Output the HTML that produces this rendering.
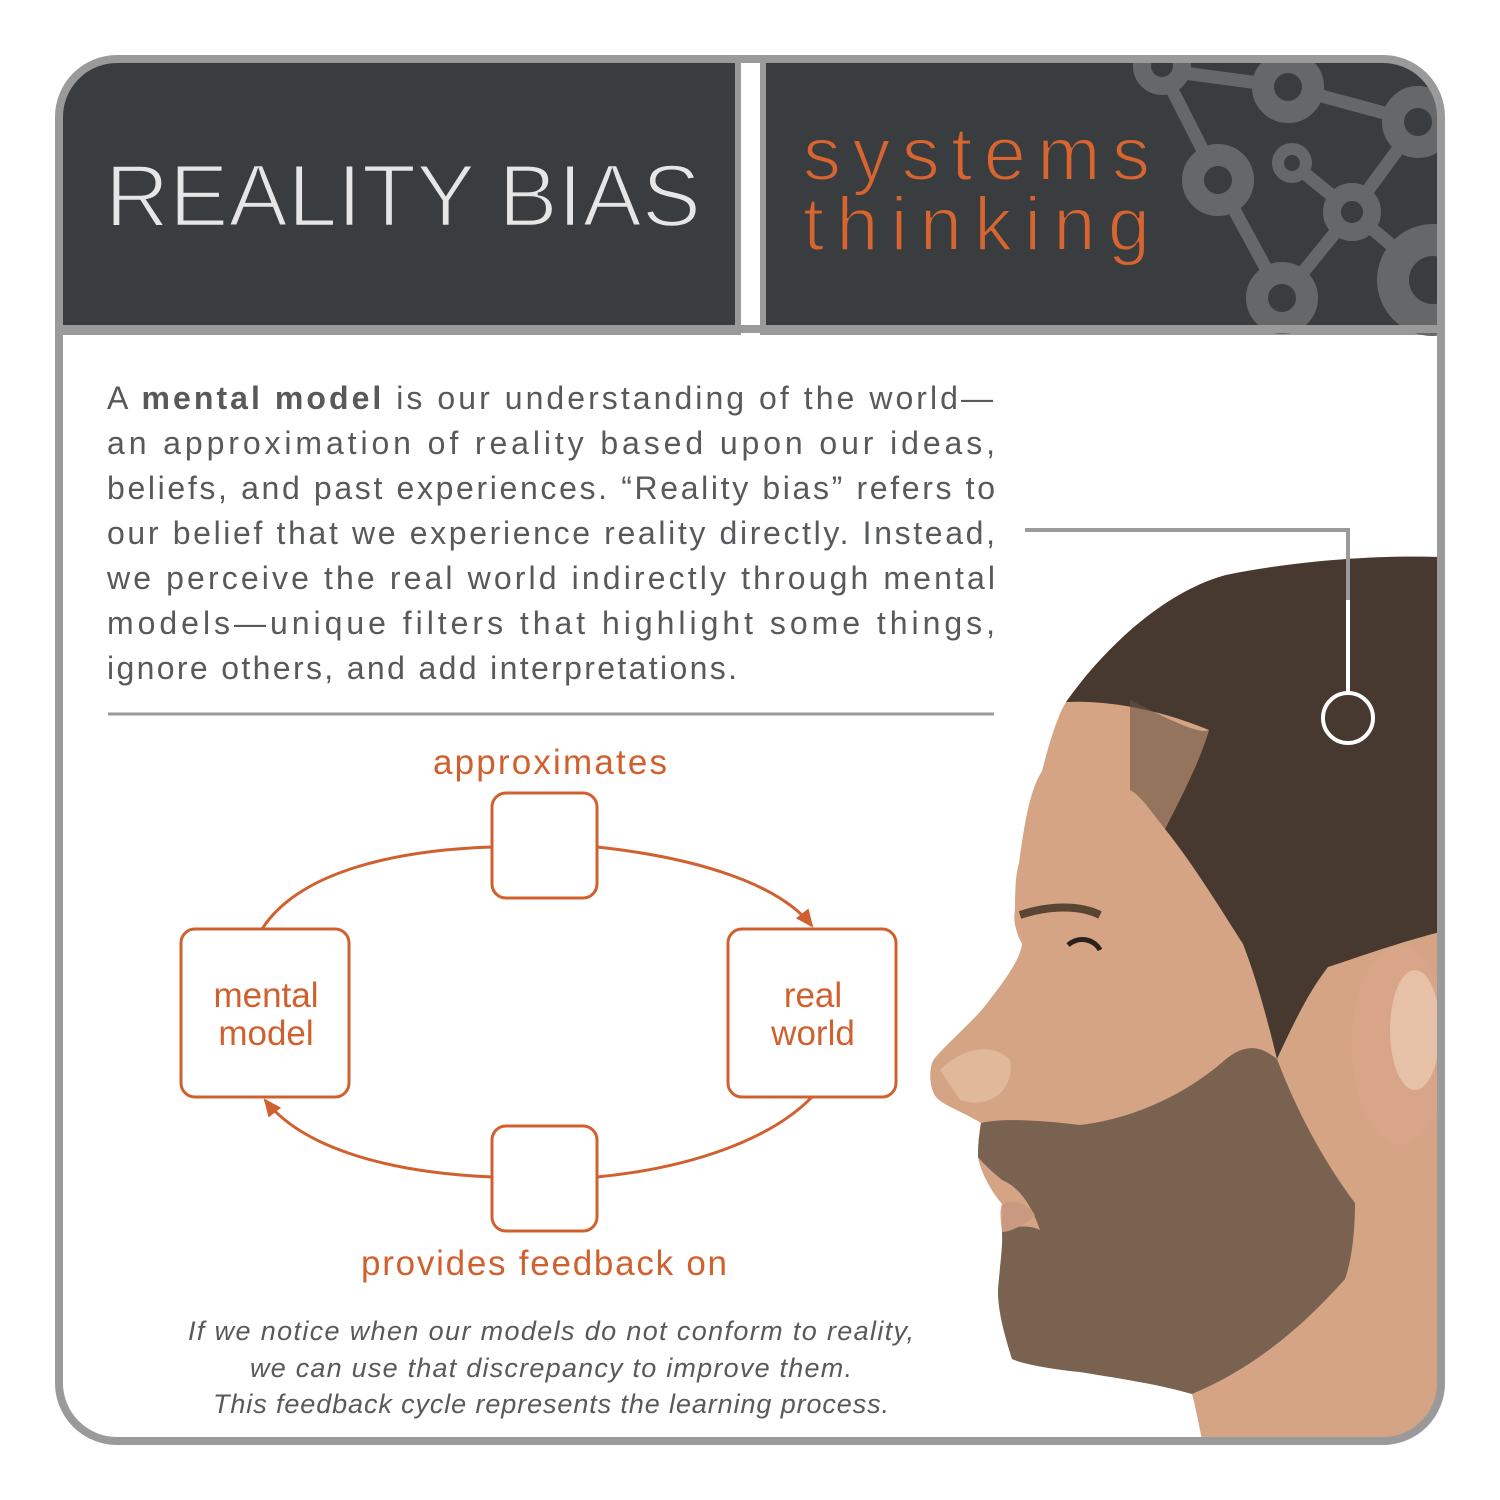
<!DOCTYPE html>
<html><head><meta charset="utf-8"><style>
html,body{margin:0;padding:0;background:#fff;}
svg{display:block;}
</style></head><body>
<svg width="1500" height="1500" viewBox="0 0 1500 1500" xmlns="http://www.w3.org/2000/svg">
<defs>
<clipPath id="frame"><rect x="59" y="59" width="1382" height="1382" rx="58"/></clipPath>
<marker id="ar" markerWidth="20" markerHeight="20" refX="16" refY="10" orient="auto" markerUnits="userSpaceOnUse" viewBox="0 0 20 20"><path d="M0,2 L18,10 L0,18 z" fill="#d0612f"/></marker>
</defs>
<rect x="0" y="0" width="1500" height="1500" fill="#fff"/>
<g clip-path="url(#frame)">
  <rect x="55" y="55" width="1390" height="280" fill="#9a9a9a"/>
  <rect x="62" y="62" width="673" height="263" fill="#3a3d3f"/>
  <rect x="766" y="62" width="680" height="263" fill="#3a3d3f"/>
  <rect x="741" y="55" width="19" height="280" fill="#fff"/>
  <rect x="735" y="55" width="6" height="280" fill="#9a9a9a"/>
  <rect x="760" y="55" width="6" height="280" fill="#9a9a9a"/>
  <g stroke="#656769" stroke-width="13" fill="none">
    <line x1="1162" y1="70" x2="1288" y2="87"/>
    <line x1="1288" y1="87" x2="1418" y2="122"/>
    <line x1="1162" y1="70" x2="1218" y2="180"/>
    <line x1="1218" y1="180" x2="1282" y2="298"/>
    <line x1="1292" y1="163" x2="1352" y2="212"/>
    <line x1="1352" y1="212" x2="1418" y2="122"/>
    <line x1="1352" y1="212" x2="1282" y2="298"/>
    <line x1="1352" y1="212" x2="1433" y2="280"/>
  </g>
  <g fill="#3a3d3f" stroke="#656769">
    <circle cx="1162" cy="66" r="20" stroke-width="18"/>
    <circle cx="1288" cy="87" r="25" stroke-width="22"/>
    <circle cx="1418" cy="122" r="25" stroke-width="22"/>
    <circle cx="1218" cy="180" r="25" stroke-width="22"/>
    <circle cx="1292" cy="163" r="14" stroke-width="12"/>
    <circle cx="1352" cy="212" r="20" stroke-width="18"/>
    <circle cx="1282" cy="298" r="25" stroke-width="22"/>
    <circle cx="1433" cy="280" r="40" stroke-width="32"/>
  </g>
  <rect x="55" y="325" width="1390" height="8" fill="#9a9a9a"/>
  <rect x="735" y="325" width="31" height="8" fill="#9a9a9a"/>
  <!-- face -->
  <path d="M1066,702 C1110,640 1170,590 1226,575 C1300,560 1380,555 1440,557 L1440,1440 L1202,1440 C1198,1420 1195,1405 1192,1394 C1160,1385 1130,1380 1080,1372 C1040,1368 1018,1362 1012,1359 C1003,1330 998,1310 998,1290 C1000,1265 1003,1245 1002,1232 C1000,1215 1000,1210 1002,1204 C990,1190 980,1170 978,1157 C978,1140 980,1130 981,1123 C960,1110 940,1105 934,1094 C928,1080 930,1065 934,1059 C950,1040 975,1020 988,1002 C1005,980 1020,960 1022,944 C1015,930 1013,920 1015,909 C1015,880 1017,870 1019,863 C1025,820 1030,790 1042,771 C1050,740 1058,715 1066,702 Z" fill="#d4a484"/>
  <path d="M940,1070 C960,1050 990,1040 1010,1060 C1015,1090 990,1110 960,1100 Z" fill="#e0b89a"/>
  <path d="M1066,702 C1110,640 1170,590 1226,575 C1300,560 1380,555 1440,557 L1440,932 C1390,945 1350,960 1328,967 C1310,990 1295,1020 1277,1059 C1265,1010 1255,975 1243,944 C1215,900 1190,860 1165,829 C1185,790 1200,760 1209,730 C1160,710 1110,700 1066,702 Z" fill="#47392f"/>
  <path d="M1130,700 C1170,720 1200,735 1209,730 C1200,760 1185,790 1165,829 C1150,810 1140,795 1130,790 Z" fill="#6a5544" opacity="0.6"/>
  <path d="M981,1123 C1000,1118 1040,1120 1080,1125 C1124,1120 1180,1100 1226,1059 C1250,1040 1265,1050 1277,1059 C1300,1120 1330,1170 1355,1203 C1355,1240 1350,1265 1345,1279 C1300,1330 1250,1370 1192,1394 C1160,1385 1130,1380 1080,1372 C1040,1368 1018,1362 1012,1359 C1003,1330 998,1310 998,1290 C1000,1265 1003,1245 1002,1232 C1015,1225 1030,1225 1040,1230 C1030,1200 1015,1185 1002,1180 C990,1170 980,1160 978,1157 C978,1140 980,1130 981,1123 Z" fill="#7a6251"/>
  <path d="M1002,1204 C1015,1198 1030,1205 1035,1215 C1025,1225 1010,1232 1002,1232 Z" fill="#c99a80"/>
  <ellipse cx="1400" cy="1045" rx="48" ry="100" fill="#d9a589"/>
  <ellipse cx="1415" cy="1030" rx="25" ry="60" fill="#e7c0a8"/>
  <path d="M1020,915 C1050,905 1080,905 1100,915" stroke="#5a4535" stroke-width="8" fill="none"/>
  <path d="M1068,945 C1080,935 1095,940 1100,950" stroke="#2a211c" stroke-width="5" fill="none"/>
</g>
<rect x="59" y="59" width="1382" height="1382" rx="58" fill="none" stroke="#9a9a9a" stroke-width="8"/>
<text x="105" y="226" font-family="Liberation Sans, sans-serif" font-size="88" fill="#e6e6e6" stroke="#3a3d3f" stroke-width="2.5" textLength="596" lengthAdjust="spacingAndGlyphs">REALITY BIAS</text>
<text x="803" y="180" font-family="Liberation Sans, sans-serif" font-size="76" fill="#d8652f" stroke="#3a3d3f" stroke-width="2" textLength="347" lengthAdjust="spacing">systems</text>
<text x="803" y="250" font-family="Liberation Sans, sans-serif" font-size="76" fill="#d8652f" stroke="#3a3d3f" stroke-width="2" textLength="347" lengthAdjust="spacing">thinking</text>
<polyline points="1025,530 1348,530 1348,693" fill="none" stroke="#9a9a9a" stroke-width="4"/>
<line x1="1348" y1="600" x2="1348" y2="693" stroke="#fff" stroke-width="4"/>
<circle cx="1348" cy="718" r="25" fill="none" stroke="#fff" stroke-width="4"/>
<g font-family="Liberation Sans, sans-serif" font-size="32" fill="#58595b">
  <text x="107" y="409" textLength="886" lengthAdjust="spacing">A <tspan font-weight="bold">mental model</tspan> is our understanding of the world—</text>
  <text x="107" y="454" textLength="888" lengthAdjust="spacing">an approximation of reality based upon our ideas,</text>
  <text x="107" y="499" textLength="888" lengthAdjust="spacing">beliefs, and past experiences. “Reality bias” refers to</text>
  <text x="107" y="544" textLength="888" lengthAdjust="spacing">our belief that we experience reality directly. Instead,</text>
  <text x="107" y="589" textLength="888" lengthAdjust="spacing">we perceive the real world indirectly through mental</text>
  <text x="107" y="634" textLength="888" lengthAdjust="spacing">models—unique filters that highlight some things,</text>
  <text x="107" y="679" textLength="630" lengthAdjust="spacing">ignore others, and add interpretations.</text>
</g>
<line x1="108" y1="714" x2="994" y2="714" stroke="#9a9a9a" stroke-width="3"/>
<g fill="none" stroke="#d0612f" stroke-width="3">
  <rect x="492" y="793" width="105" height="105" rx="14"/>
  <rect x="492" y="1126" width="105" height="105" rx="14"/>
  <rect x="181" y="929" width="168" height="168" rx="14"/>
  <rect x="728" y="929" width="168" height="168" rx="14"/>
  <path d="M262,929 C300,870 400,850 492,847"/>
  <path d="M597,847 C700,858 780,885 812,926" marker-end="url(#ar)"/>
  <path d="M812,1097 C770,1140 690,1168 597,1177"/>
  <path d="M492,1177 C380,1172 300,1145 265,1100" marker-end="url(#ar)"/>
</g>
<g font-family="Liberation Sans, sans-serif" font-size="35" fill="#d0612f" text-anchor="middle">
  <text x="550" y="774" textLength="234" lengthAdjust="spacing">approximates</text>
  <text x="544" y="1275" textLength="366" lengthAdjust="spacing">provides feedback on</text>
  <text x="266" y="1007">mental</text>
  <text x="266" y="1045">model</text>
  <text x="813" y="1007">real</text>
  <text x="813" y="1045">world</text>
</g>
<g font-family="Liberation Sans, sans-serif" font-size="27" font-style="italic" fill="#58595b" text-anchor="middle">
  <text x="551" y="1340" textLength="726" lengthAdjust="spacing">If we notice when our models do not conform to reality,</text>
  <text x="551" y="1377" textLength="602" lengthAdjust="spacing">we can use that discrepancy to improve them.</text>
  <text x="551" y="1413" textLength="676" lengthAdjust="spacing">This feedback cycle represents the learning process.</text>
</g>
</svg>
</body></html>
